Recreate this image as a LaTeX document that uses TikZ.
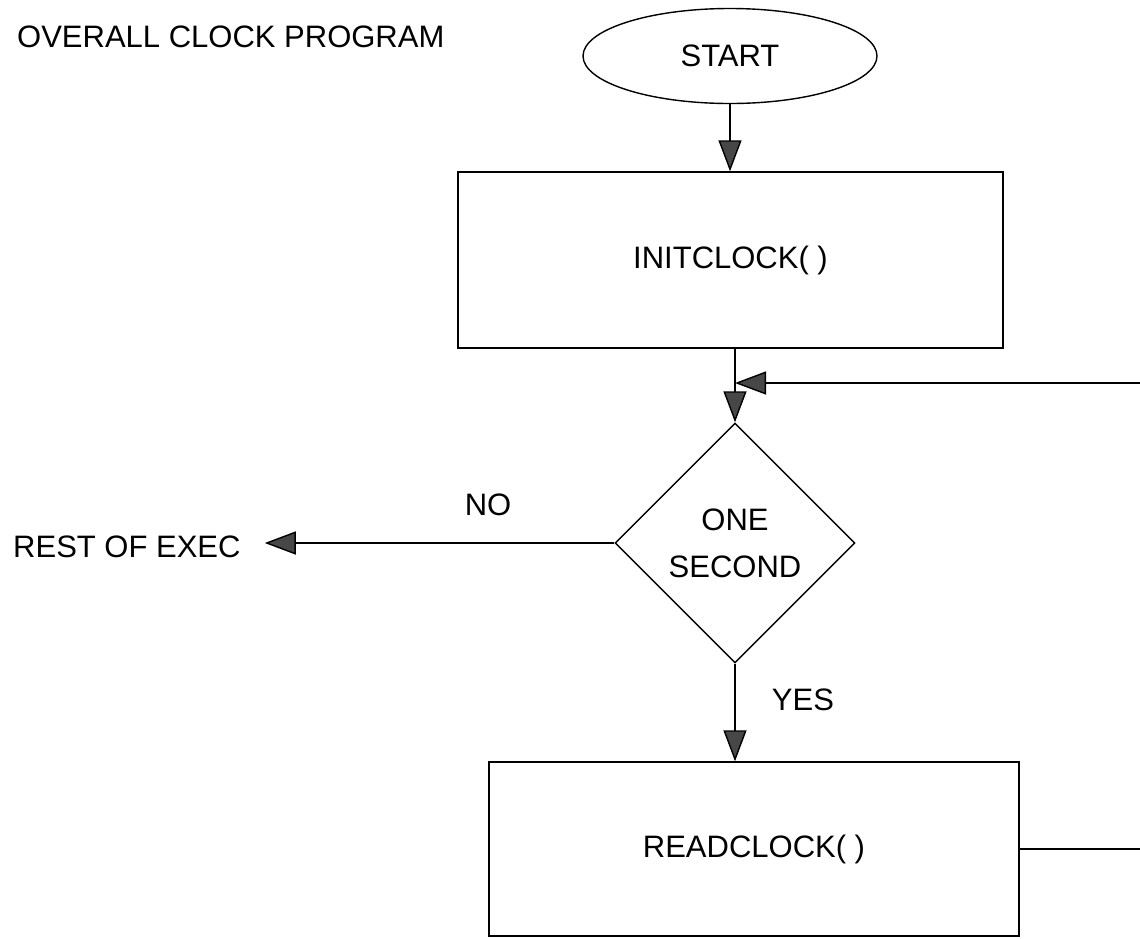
\documentclass[tikz,border=0pt]{standalone}
\usepackage{fontspec}
\setmainfont{Liberation Sans}
\usetikzlibrary{shapes.geometric,arrows.meta}
\begin{document}
\begin{tikzpicture}[x=1pt,y=-1pt,
  every node/.style={font=\fontsize{31}{47}\selectfont, inner sep=0pt},
  flowline/.style={line width=1.4pt, draw=black},
  procbox/.style={draw, line width=1.4pt, rectangle, inner sep=0pt},
  terminal/.style={draw, line width=1.4pt, ellipse, inner sep=0pt},
  decision/.style={draw, line width=1.4pt, diamond, aspect=1, inner sep=0pt, align=center},
  arr/.style={flowline, -{Triangle[length=31pt,width=23pt,fill=black!72]}},
]
\useasboundingbox (0,0) rectangle (1140,938);

% heading
\node[anchor=base west] (title) at (17,47) {OVERALL CLOCK PROGRAM};

% flowchart shapes
\node[terminal, minimum width=294pt, minimum height=95pt] (start) at (730,56) {START};
\node[procbox, minimum width=545pt, minimum height=176pt] (init) at (730.5,260) {INITCLOCK(\ )};
\node[decision, minimum width=240pt, minimum height=240pt] (dec) at (735,543) {ONE\\SECOND};
\node[procbox, minimum width=530pt, minimum height=174pt] (read) at (754,849) {READCLOCK(\ )};

% side labels
\node[anchor=west] (rest) at (13,547) {REST OF EXEC};
\node (no) at (488,505) {NO};
\node (yes) at (803,700) {YES};

% loop ends at the right margin
\coordinate (loopin) at (1140,383);
\coordinate (loopout) at (1140,849);

% connectors
\draw[arr] (start.south) -- (start.south |- init.north);
\draw[arr] (init.south -| dec.north) -- (dec.north);
\draw[arr] (loopin) -- (loopin -| dec.north);
\draw[arr] (dec.west) -- ([xshift=24pt]rest.east |- dec.west);
\draw[arr] (dec.south) -- (dec.south |- read.north);
\draw[flowline] (read.east) -- (loopout);
\end{tikzpicture}
\end{document}
